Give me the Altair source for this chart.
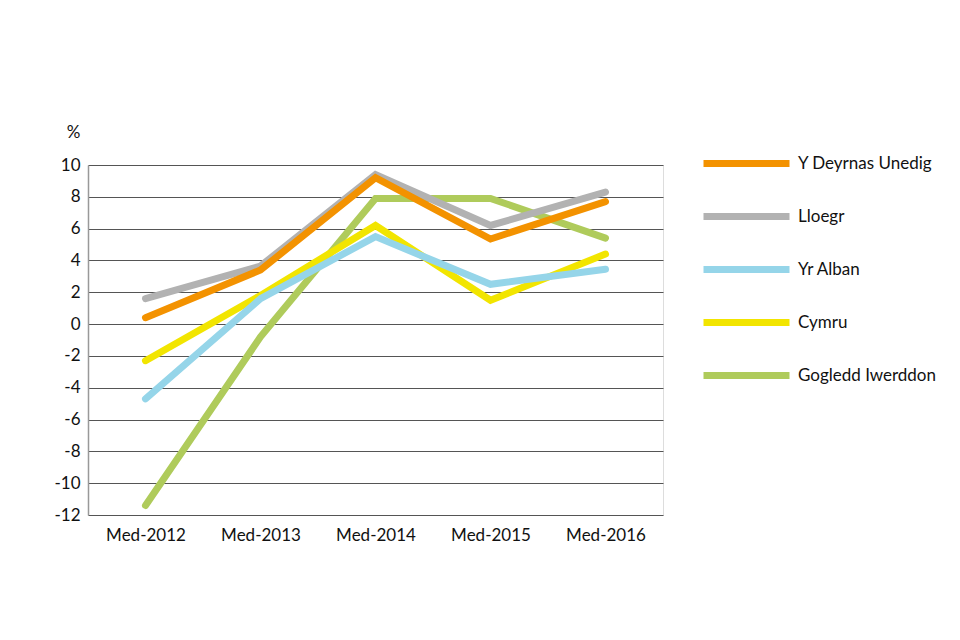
import altair as alt
import pandas as pd

years = ["Med-2012", "Med-2013", "Med-2014", "Med-2015", "Med-2016"]
series_names = ["Y Deyrnas Unedig", "Lloegr", "Yr Alban", "Cymru", "Gogledd Iwerddon"]
uk = [0.4, 3.4, 9.2, 5.35, 7.7]
england = [1.6, 3.65, 9.4, 6.2, 8.3]
scotland = [-4.7, 1.6, 5.5, 2.5, 3.45]
wales = [-2.3, 1.8, 6.2, 1.5, 4.4]
ni = [-11.4, -0.8, 7.9, 7.9, 5.4]
colors = ["#F39200", "#B2B2B2", "#95D5E9", "#F2E500", "#AFCB5B"]

values = [uk, england, scotland, wales, ni]
rows = []
for name, vals in zip(series_names, values):
    for y, v in zip(years, vals):
        rows.append({"year": y, "series": name, "value": v})
df = pd.DataFrame(rows)

FONT = "Lato"

color_scale = alt.Scale(domain=series_names, range=colors)

def layer_for(name):
    return alt.Chart(df).transform_filter(alt.datum.series == name).mark_line(
        strokeWidth=7, strokeCap="round", strokeJoin="miter"
    ).encode(
        x=alt.X("year:N", sort=years, scale=alt.Scale(paddingOuter=0.5, paddingInner=0),
                axis=alt.Axis(title=None, labelAngle=0, labelFontSize=17, labelColor="#111",
                              ticks=False, domain=False, labelPadding=12, labelFont=FONT)),
        y=alt.Y("value:Q", scale=alt.Scale(domain=[-12, 10], nice=False),
                axis=alt.Axis(values=list(range(-12, 11, 2)), title="%", titleAngle=0,
                              titleX=-15, titleY=-24, titleFontSize=17, titleFontWeight="normal",
                              titleColor="#111", titleFont=FONT, titleAlign="center",
                              labelExpr="datum.value < 0 ? '-' + abs(datum.value) : '' + datum.value",
                              labelFontSize=17, labelColor="#111", labelFont=FONT, labelPadding=8,
                              ticks=False, domain=True, domainColor="#999", domainWidth=1.5,
                              gridColor="#555", gridWidth=1)),
        color=alt.Color("series:N", scale=color_scale,
                        legend=alt.Legend(title=None, orient="none", legendX=635, legendY=-25,
                                          symbolType="M-2.15,0L2.15,0", symbolSize=1600, symbolStrokeWidth=7,
                                          labelFontSize=17, labelColor="#111", labelFont=FONT,
                                          labelOffset=28, rowPadding=15, labelLimit=300)),
    )

order = list(reversed(series_names))
chart = alt.layer(*[layer_for(n) for n in order]).properties(
    width=575, height=350,
    autosize=alt.AutoSizeParams(type="none"),
    padding={"left": 80, "top": 157, "right": 289, "bottom": 117},
).configure_view(stroke=None).configure(background="white")

chart.save("out.html", embed_options={"renderer": "svg", "actions": False})
